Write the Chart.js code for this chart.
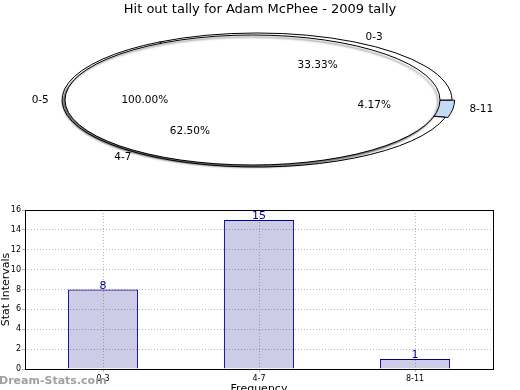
<!DOCTYPE html>
<html><head><meta charset="utf-8">
<script src="https://cdn.jsdelivr.net/npm/chart.js@4/dist/chart.umd.min.js"></script>
<style>
html,body{margin:0;padding:0;background:#fff;}
#wrap{position:relative;width:520px;height:390px;overflow:hidden;background:#fff;}
#pieA,#pieB{position:absolute;left:0;top:0;}
#bar{position:absolute;left:0;top:200px;}
</style></head><body>
<div id="wrap">
<canvas id="pieA" width="520" height="200"></canvas>
<canvas id="pieB" width="520" height="200"></canvas>
<canvas id="bar" width="520" height="200"></canvas>
</div>
<script>
// ---- data ----
const chartTitle = 'Hit out tally for Adam McPhee - 2009 tally';
const categories = ['0-3', '4-7', '8-11'];
const counts = [8, 15, 1];
const overlayCategory = '0-5';
const overlayPct = 100.00;
const yTickValues = [0, 2, 4, 6, 8, 10, 12, 14, 16];
const xTitle = 'Frequency';
const yTitle = 'Stat Intervals';
const watermark = 'Dream-Stats.com';

// ---- style ----
const FONT = "'DejaVu Sans', 'Liberation Sans', sans-serif";
const ELL_A = {cx: 257, cy: 100, rx: 195, ry: 67};   // slices underneath
const ELL_B = {cx: 252.5, cy: 100, rx: 187.5, ry: 65}; // white 0-5 ellipse on top
const LBL = {cx: 260, cy: 100, rx: 192, ry: 66};     // label ellipse

const total = counts.reduce((a, b) => a + b, 0);
const pieCats = categories.slice().reverse();
const pieVals = counts.slice().reverse();
const pieColors = pieCats.map(c => c === '8-11' ? '#c6d9f7' : '#ffffff');

function squashPlugin(ell, opts) {
  return {
    id: 'squash',
    beforeDatasetsDraw(chart) {
      const ctx = chart.ctx;
      const meta = chart.getDatasetMeta(0);
      const a = meta.data[0];
      const R = meta.controller.outerRadius || a.outerRadius;
      const cx = meta.controller.chart.chartArea ? (chart.chartArea.left + chart.chartArea.right) / 2 : a.x;
      const cy = (chart.chartArea.top + chart.chartArea.bottom) / 2;
      ctx.save();
      if (opts.shadow) {
        ctx.shadowColor = 'rgba(0,0,0,0.55)';
        ctx.shadowOffsetX = -2;
        ctx.shadowOffsetY = 2;
        ctx.shadowBlur = 2;
      }
      ctx.translate(ell.cx, ell.cy);
      ctx.scale(ell.rx / R, ell.ry / R);
      ctx.translate(-cx, -cy);
      ctx.stroke = function () {
        this.save();
        this.setTransform(1, 0, 0, 1, 0, 0);
        CanvasRenderingContext2D.prototype.stroke.call(this);
        this.restore();
      };
      if (opts.noCenterLine) {
        ctx.lineTo = function (x, y) { this.moveTo(x, y); };
      }
    },
    afterDatasetsDraw(chart) {
      const ctx = chart.ctx;
      delete ctx.stroke;
      delete ctx.lineTo;
      ctx.restore();
    }
  };
}

const pieA = new Chart(document.getElementById('pieA'), {
  type: 'pie',
  data: {
    labels: pieCats,
    datasets: [{
      data: pieVals, backgroundColor: pieColors, borderColor: '#000', borderWidth: 1,
      offset: pieCats.map(c => c === '8-11' ? 3 : 0)
    }]
  },
  options: {
    responsive: false, animation: false, rotation: 90,
    layout: {padding: 0},
    plugins: {legend: {display: false}, tooltip: {enabled: false}, title: {display: false}}
  },
  plugins: [squashPlugin(ELL_A, {})]
});

const pieLabels = {
  id: 'pieLabels',
  afterDraw(chart) {
    const ctx = chart.ctx;
    ctx.save();
    ctx.font = '10.5px ' + FONT;
    ctx.fillStyle = '#000';
    ctx.textBaseline = 'middle';
    const put = (el, name, pct) => {
      const m = (el.startAngle + el.endAngle) / 2;
      const c = Math.cos(m), s = Math.sin(m);
      ctx.textAlign = c > 0 ? 'left' : 'right';
      ctx.fillText(name, LBL.cx + 1.1 * LBL.rx * c, LBL.cy + 1.1 * LBL.ry * s);
      ctx.textAlign = 'center';
      ctx.fillText(pct, LBL.cx + 0.6 * LBL.rx * c, LBL.cy + 0.6 * LBL.ry * s);
    };
    pieA.getDatasetMeta(0).data.forEach((el, i) => {
      put(el, pieCats[i], (pieVals[i] / total * 100).toFixed(2) + '%');
    });
    put(chart.getDatasetMeta(0).data[0], overlayCategory, overlayPct.toFixed(2) + '%');
    ctx.restore();
  }
};

new Chart(document.getElementById('pieB'), {
  type: 'pie',
  data: {
    labels: [overlayCategory],
    datasets: [{data: [overlayPct], backgroundColor: '#ffffff', borderColor: '#000', borderWidth: 1}]
  },
  options: {
    responsive: false, animation: false, rotation: 90,
    layout: {padding: 0},
    plugins: {
      legend: {display: false}, tooltip: {enabled: false},
      title: {display: true, text: chartTitle, color: '#000', padding: {top: 2, bottom: 4},
              font: {family: FONT, size: 13, weight: 'normal'}}
    }
  },
  plugins: [squashPlugin(ELL_B, {shadow: true, noCenterLine: true}), pieLabels]
});

// ---- bar chart ----
const barDecor = {
  id: 'barDecor',
  afterDatasetsDraw(chart) {
    const ctx = chart.ctx;
    const ca = chart.chartArea;
    ctx.save();
    ctx.strokeStyle = '#000';
    ctx.lineWidth = 1;
    ctx.strokeRect(Math.round(ca.left) + 0.5, Math.round(ca.top) + 0.5,
                   Math.round(ca.right - ca.left), Math.round(ca.bottom - ca.top));
    ctx.font = '11px ' + FONT;
    ctx.fillStyle = '#0000a0';
    ctx.textAlign = 'center';
    ctx.textBaseline = 'bottom';
    chart.getDatasetMeta(0).data.forEach((b, i) => {
      ctx.fillText(String(counts[i]), b.x, b.y + 2);
    });
    ctx.restore();
  },
  afterDraw(chart) {
    const ctx = chart.ctx;
    ctx.save();
    ctx.font = 'bold 11px ' + FONT;
    ctx.fillStyle = '#a0a0a0';
    ctx.textAlign = 'left';
    ctx.textBaseline = 'middle';
    ctx.fillText(watermark, -1, 181);
    ctx.restore();
  }
};

new Chart(document.getElementById('bar'), {
  type: 'bar',
  data: {
    labels: categories,
    datasets: [{
      data: counts,
      backgroundColor: 'rgba(0,0,128,0.2)',
      borderColor: '#000090',
      borderWidth: 1,
      categoryPercentage: 1,
      barPercentage: 0.45
    }]
  },
  options: {
    responsive: false, animation: false,
    layout: {padding: {top: 10, right: 27, left: 0, bottom: 0}},
    plugins: {legend: {display: false}, tooltip: {enabled: false}},
    scales: {
      x: {
        grid: {offset: false, color: '#b8b8b8', lineWidth: 1, tickLength: 3},
        border: {display: false, dash: [1, 2]},
        ticks: {color: '#000', padding: 2, font: {family: FONT, size: 8}},
        title: {display: true, text: xTitle, color: '#000', padding: {top: 0, bottom: 4},
                font: {family: FONT, size: 11}},
        afterFit: s => { s.height = 31; }
      },
      y: {
        min: 0, max: 16,
        afterBuildTicks: s => { s.ticks = yTickValues.map(v => ({value: v})); },
        grid: {color: '#b8b8b8', lineWidth: 1, tickLength: 3},
        border: {display: false, dash: [1, 2]},
        ticks: {color: '#000', padding: 1, font: {family: FONT, size: 8}},
        title: {display: true, text: yTitle, color: '#000', padding: 0,
                font: {family: FONT, size: 11}},
        afterFit: s => { s.width = 25; }
      }
    }
  },
  plugins: [barDecor]
});
</script>
</body></html>
